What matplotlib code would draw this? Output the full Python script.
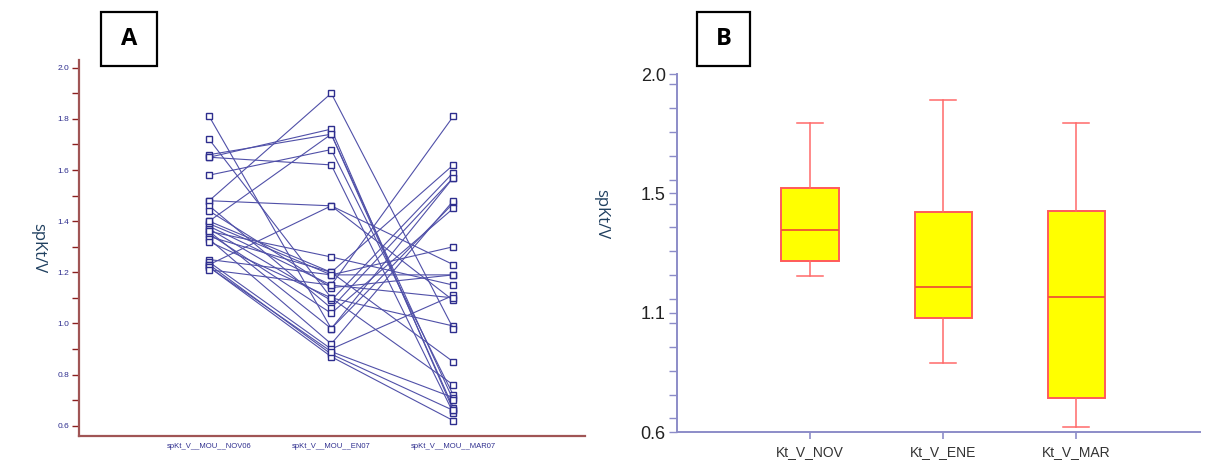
import matplotlib
matplotlib.use("Agg")
import matplotlib.pyplot as plt
from matplotlib.patches import Rectangle
from matplotlib.ticker import MultipleLocator, FixedLocator

plt.rcParams["font.family"] = ["Liberation Sans", "DejaVu Sans"]

# Panel A: spKt/V per patient at the three times
time_labels = ["spKt_V__MOU__NOV06", "spKt_V__MOU__EN07", "spKt_V__MOU__MAR07"]
nov = [1.81, 1.72, 1.66, 1.65, 1.65, 1.58, 1.48, 1.48, 1.46, 1.44, 1.40, 1.39, 1.38, 1.37,
       1.36, 1.35, 1.34, 1.33, 1.32, 1.25, 1.24, 1.23, 1.23, 1.22, 1.22, 1.21, 1.40, 1.36]
ene = [0.98, 1.10, 1.74, 1.62, 1.76, 1.68, 1.90, 1.46, 1.06, 1.14, 1.20, 1.19, 1.15, 1.09,
       1.26, 1.04, 1.20, 0.92, 1.10, 1.19, 0.90, 1.46, 0.88, 0.87, 0.89, 1.15, 1.74, 0.98]
mar = [1.47, 0.99, 0.67, 0.65, 0.66, 0.72, 0.98, 1.09, 1.57, 1.19, 1.62, 1.19, 1.81, 1.59,
       1.15, 1.45, 0.85, 1.48, 0.76, 1.30, 1.11, 1.23, 0.66, 0.62, 0.71, 1.10, 0.70, 1.57]

# Panel B: box plot summary (whisker low, Q1, median, Q3, whisker high)
box_labels = ["Kt_V_NOV", "Kt_V_ENE", "Kt_V_MAR"]
whislo = [1.21, 0.87, 0.62]
q1 = [1.27, 1.045, 0.733]
med = [1.39, 1.168, 1.128]
q3 = [1.553, 1.462, 1.465]
whishi = [1.81, 1.90, 1.81]

fig = plt.figure(figsize=(12.05, 4.62), dpi=100)

# ---- Panel A
axA = fig.add_axes([0.0656, 0.0563, 0.42, 0.8137])
navy = "#2E2E8E"
for a, b, c in zip(nov, ene, mar):
    axA.plot([0, 1, 2], [a, b, c], color="#5050A8", lw=0.8,
             marker="s", ms=4.0, mfc="white", mec=navy, mew=1.0)
axA.set_xlim(-1.066, 3.08)
axA.set_ylim(0.56, 2.03)
axA.yaxis.set_major_locator(FixedLocator([0.6, 0.8, 1.0, 1.2, 1.4, 1.6, 1.8, 2.0]))
axA.yaxis.set_minor_locator(FixedLocator([0.7, 0.9, 1.1, 1.3, 1.5, 1.7, 1.9]))
axA.yaxis.set_major_formatter(plt.FuncFormatter(lambda v, p: f"{v:.1f}"))
axA.set_xticks([0, 1, 2])
axA.set_xticklabels(time_labels)
axA.tick_params(axis="x", length=0, labelsize=5.5, labelcolor=navy, pad=5)
axA.tick_params(axis="y", which="both", length=5, width=1, color="#8B2020",
                labelsize=6, labelcolor=navy, pad=2)
for s in ["top", "right"]:
    axA.spines[s].set_visible(False)
for s in ["left", "bottom"]:
    axA.spines[s].set_color("#A05555")
    axA.spines[s].set_linewidth(1.6)
axA.set_ylabel("spKt/V", rotation=270, fontsize=12, color="#1F3F5F",
               family=["Open Sans", "DejaVu Sans"], labelpad=20)

# ---- Panel B
axB = fig.add_axes([0.5618, 0.0649, 0.434, 0.7749])
stats = []
for lab, lo, a, m, b, hi in zip(box_labels, whislo, q1, med, q3, whishi):
    stats.append({"label": lab, "whislo": lo, "q1": a, "med": m, "q3": b,
                  "whishi": hi, "fliers": []})
axB.bxp(stats, positions=[1, 2, 3], widths=0.43, patch_artist=True,
        boxprops=dict(facecolor="#FFFF00", edgecolor="#FF5A5A", lw=1.4),
        medianprops=dict(color="#F06030", lw=1.4),
        whiskerprops=dict(color="#FF6A6A", lw=1.1),
        capprops=dict(color="#FF6A6A", lw=1.1), capwidths=0.2)
axB.set_xlim(0.0, 3.93)
axB.set_ylim(0.6, 2.0)
axB.yaxis.set_major_locator(FixedLocator([0.6, 0.6 + 1.4 / 3, 0.6 + 2.8 / 3, 2.0]))
axB.yaxis.set_minor_locator(MultipleLocator(1.4 / 15))
axB.yaxis.set_major_formatter(plt.FuncFormatter(lambda v, p: f"{v:.1f}"))
axB.tick_params(axis="y", which="both", length=6, width=1, color="#8C8CC8",
                labelsize=13, labelcolor="#222222", pad=2)
axB.tick_params(axis="x", length=5, width=1.2, color="#8C8CC8",
                labelsize=10, labelcolor="#333333", pad=4)
for s in ["top", "right"]:
    axB.spines[s].set_visible(False)
for s in ["left", "bottom"]:
    axB.spines[s].set_color("#8C8CC8")
    axB.spines[s].set_linewidth(1.4)
axB.set_ylabel("spKt/V", rotation=270, fontsize=12, color="#1F3F5F",
               family=["Open Sans", "DejaVu Sans"])
axB.yaxis.set_label_coords(-0.16, 0.61)

# ---- Panel letters
for x0, w, letter in [(0.0838, 0.0465, "A"), (0.5784, 0.044, "B")]:
    fig.add_artist(Rectangle((x0, 0.857), w, 0.117, transform=fig.transFigure,
                             fill=False, edgecolor="black", lw=1.6))
    fig.text(x0 + w / 2, 0.857 + 0.117 / 2, letter, ha="center", va="center",
             fontsize=17, fontweight="bold", family=["Open Sans", "DejaVu Sans"])

fig.savefig("out.png", dpi=100)
